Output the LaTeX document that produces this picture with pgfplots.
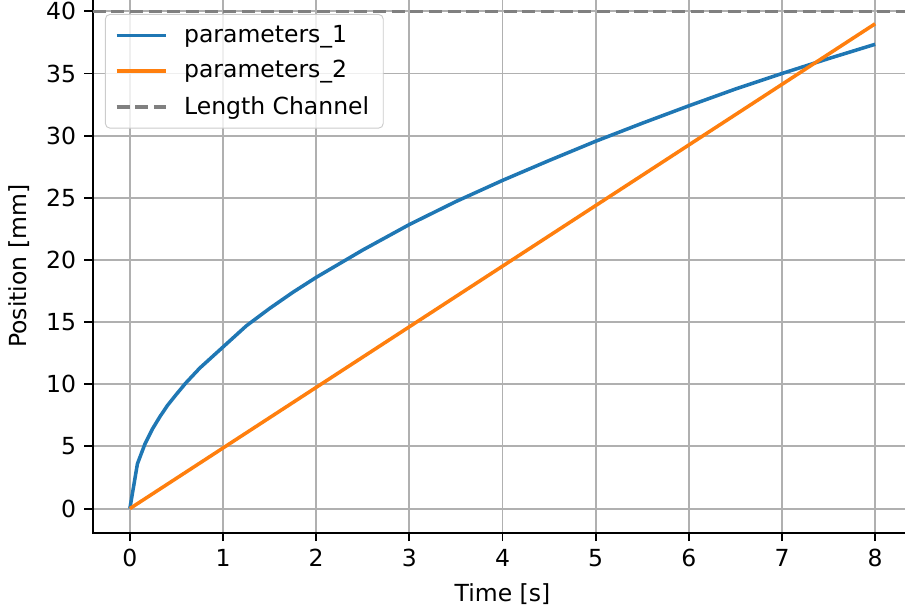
\documentclass[border=0pt]{standalone}
\usepackage{fontspec}
\setmainfont{DejaVu Sans}
\usepackage{pgfplots}
\pgfplotsset{compat=1.18}
\definecolor{tabblue}{HTML}{1F77B4}
\definecolor{taborange}{HTML}{FF7F0E}
\definecolor{gridgray}{HTML}{B0B0B0}
\begin{document}
\begin{tikzpicture}
\begin{axis}[
  name=ax,
  scale only axis,
  width=348.8pt, height=226.9pt,
  xmin=-0.4, xmax=8.4,
  ymin=-1.95, ymax=40.95,
  xtick={0,1,...,8},
  ytick={0,5,...,40},
  grid=major,
  major grid style={color=gridgray, line width=0.8pt},
  axis line style={line width=0.8pt},
  tick align=outside,
  major tick length=3.5pt,
  tick style={line width=0.8pt, black},
  xtick pos=bottom, ytick pos=left,
  /pgf/number format/assume math mode=true,
  ticklabel style={font=\fontsize{10}{12}\selectfont},
  label style={font=\fontsize{10}{12}\selectfont},
  xlabel={Time [s]},
  ylabel={Position [mm]},
  legend cell align=left,
  legend style={at={(0.015,0.973)}, anchor=north west,
    draw=black!20, rounded corners=2pt, fill=white, fill opacity=0.8, text opacity=1,
    font=\fontsize{10}{12}\selectfont, row sep=2.3pt, inner xsep=4pt, inner ysep=2.5pt},
  legend image code/.code={\draw[#1] (0pt,0pt) -- (21pt,0pt); \path (26pt,0pt);},
]
\addplot[tabblue, line width=1.5pt] coordinates {
(0,0) (0.081,3.6) (0.162,5.2) (0.242,6.4) (0.323,7.4) (0.404,8.3)
(0.5,9.2) (0.6,10.1) (0.75,11.3) (1,13.0) (1.25,14.7) (1.5,16.1)
(1.75,17.4) (2,18.6) (2.5,20.8) (3,22.85) (3.5,24.7) (4,26.4)
(4.5,28.0) (5,29.55) (5.5,31.0) (6,32.4) (6.5,33.75) (7,35.0)
(7.5,36.2) (8,37.35)
};
\addlegendentry{parameters\_1}
\addplot[taborange, line width=1.5pt] coordinates {
(0,0) (8,39.0)
};
\addlegendentry{parameters\_2}
\addplot[gray, line width=1.5pt, dash pattern=on 5.55pt off 2.4pt] coordinates {
(-0.4,40) (8.4,40)
};
\addlegendentry{Length Channel}
\end{axis}
\pgfresetboundingbox
\path[use as bounding box] ([xshift=-39.4pt,yshift=-33.5pt]ax.south west) rectangle ([xshift=-3.15pt,yshift=-0.2pt]ax.north east);
\end{tikzpicture}
\end{document}
